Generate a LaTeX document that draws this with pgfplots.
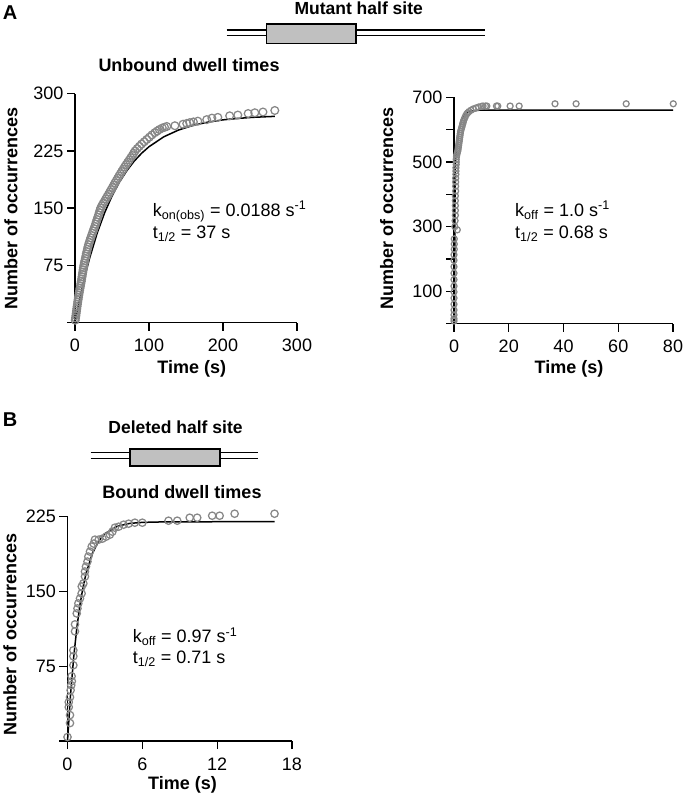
\documentclass[border=0pt]{standalone}
\usepackage{fontspec}
\setmainfont{Liberation Sans}
\usepackage{pgfplots}
\pgfplotsset{compat=1.18}
\definecolor{dotgray}{RGB}{135,135,135}
\definecolor{boxgray}{RGB}{192,192,192}
\newcommand{\fs}{\fontsize{18}{21}\selectfont}
\pgfplotsset{
  panel/.style={
    scale only axis,
    axis lines*=left,
    tick align=outside,
    major tick length=8pt,
    minor tick length=8pt,
    axis line style={line width=1.3pt, black},
    tick style={line width=1.3pt, black},
    tick label style={font=\fs},
    xticklabel style={yshift=-5pt},
    label style={font=\bfseries\fs},
    /pgf/number format/assume math mode=true,
    clip=false,
    scaled ticks=false,
    extra y ticks={0},
    extra y tick labels={},
  },
  dots/.style={only marks, mark=o, mark options={dotgray, line width=1.25pt}},
  fitline/.style={no marks, black, line width=1.5pt},
}
\begin{document}
\begin{tikzpicture}
\useasboundingbox (0,0) rectangle (685pt,-797pt);

% ---------- Panel A titles and diagram ----------
\node[anchor=base, font=\bfseries\fontsize{20}{22}\selectfont] at (10pt,-19.3pt) {A};
\node[anchor=base, font=\bfseries\fontsize{17.5}{20}\selectfont] at (358.7pt,-15pt) {Mutant half site};
\draw[line width=1.5pt] (226.7pt,-30pt) -- (485pt,-30pt);
\draw[line width=1.5pt] (226.7pt,-35.5pt) -- (485pt,-35.5pt);
\draw[line width=1.5pt, fill=boxgray] (266.5pt,-24pt) rectangle (356pt,-43.3pt);
\node[anchor=base, font=\bfseries\fs] at (189pt,-71.7pt) {Unbound dwell times};

% ---------- Panel A left ----------
\begin{axis}[panel,
  at={(75pt,-322.5pt)}, anchor=south west,
  width=222pt, height=228.8pt,
  xmin=0, xmax=300, ymin=0, ymax=300,
  xtick={0,100,200,300}, ytick={75,150,225,300},
  xlabel={Time (s)}, ylabel={Number of occurrences},
  xlabel style={at={(axis description cs:0.526,-0.201)}, anchor=center},
  ylabel style={at={(axis description cs:-0.288,0.5)}, anchor=center, rotate=0},
]
\addplot[fitline] coordinates {
(0,0) (2.5,12.5) (5,24.4) (10,46.6) (15,66.8) (20,85.2) (30,117.3) (40,143.8) (50,165.8)
(60,184.0) (70,199.0) (80,211.6) (90,221.9) (100,230.5) (120,243.5) (140,252.4) (160,258.6)
(180,262.8) (200,265.7) (220,267.6) (240,269.0) (270,270.3)
};
\addplot[dots, mark size=3.9pt] coordinates {
(0.3,3) (0.7,6) (1.2,9) (1.6,12) (2.0,15) (2.4,18) (2.8,21) (3.3,24) (3.7,27) (4.2,30)
(4.7,33) (5.2,36) (5.7,39) (6.2,42) (6.8,45) (7.4,48) (7.9,51) (8.5,54) (9.0,57) (9.5,60)
(10.0,63) (10.5,66) (11.0,69) (11.5,72) (12.0,75) (12.6,78) (13.3,81) (14.0,84) (14.7,87) (15.3,90)
(16.0,93) (16.8,96) (17.5,99) (18.3,102) (19.3,105) (20.3,108) (21.3,111) (22.4,114) (23.5,117) (24.6,120)
(25.7,123) (26.8,126) (27.8,129) (28.8,132) (29.8,135) (30.8,138) (31.9,141) (32.8,144) (33.7,147) (34.7,150)
(36.3,153) (38.0,156) (39.8,159) (41.6,162) (43.4,165) (45.2,168) (47.0,171) (48.8,174) (50.6,177) (52.3,180)
(54.0,183) (55.8,186) (57.6,189) (59.4,192) (61.3,195) (63.2,198) (65.1,201) (67.0,204) (69.1,207) (71.2,210)
(73.3,213) (75.4,216) (77.5,219) (79.3,222) (81.2,225) (84.0,228) (87.0,231) (90.0,234) (93.5,237) (97.0,240)
(100.5,243) (104.0,246) (108,249) (111,251) (114,253) (118,255) (121,256) (124,257)
(135,258) (146,260) (151,261) (155,262) (160,263) (166,264) (178,266) (185,268) (193,269)
(209,271) (220,272) (234,274) (243,275) (254,276) (270,278)
};
\end{axis}
\node[anchor=base west, font=\fs] at (149.3pt,-216pt) {k\textsubscript{on(obs)} = 0.0188 s\textsuperscript{-1}};
\node[anchor=base west, font=\fs] at (149.3pt,-238.3pt) {t\textsubscript{1/2} = 37 s};

% ---------- Panel A right ----------
\begin{axis}[panel,
  at={(454pt,-323.6pt)}, anchor=south west,
  width=219pt, height=226.3pt,
  xmin=0, xmax=80, ymin=0, ymax=700,
  xtick={0,20,40,60,80}, ytick={100,300,500,700},
  minor ytick={200,400,600},
  xlabel={Time (s)}, ylabel={Number of occurrences},
  xlabel style={at={(axis description cs:0.525,-0.198)}, anchor=center},
  ylabel style={at={(axis description cs:-0.307,0.509)}, anchor=center, rotate=0},
]
\addplot[fitline] coordinates {
(0.2,0) (0.3,300) (0.45,480) (0.8,540) (1.5,590) (2.5,625) (3.5,643) (5,653) (7,658) (9,660) (80,660)
};
\addplot[dots, mark size=3pt] coordinates {
(0.0,8) (0.0,15) (0.0,27) (0.0,42) (0.0,60) (0.0,79) (0.0,98) (0.0,116) (0.0,136) (0.0,156)
(0.0,176) (0.0,196) (0.0,213) (0.1,230) (0.1,246) (0.1,262) (1.2,290) (0.3,300) (0.4,318) (0.5,335)
(0.5,350) (0.5,365) (0.5,380) (0.5,395) (0.6,410) (0.6,425) (0.6,438) (0.6,450) (0.7,462) (0.7,472)
(0.7,482) (0.8,492) (0.8,500) (0.8,508) (0.9,516) (1.0,522) (1.2,528) (1.4,534) (1.5,540) (1.6,546)
(1.7,552) (1.8,558) (1.9,564) (2.0,570) (2.1,576) (2.2,582) (2.3,588) (2.4,594) (2.6,600) (2.8,606)
(3.0,612) (3.2,618) (3.4,624) (3.6,630) (3.9,636) (4.2,642) (4.6,648) (5.0,652) (5.5,656) (6.2,660)
(7.0,664) (8.0,667) (9.0,670) (10.0,672) (10.6,673) (11.5,673) (12.0,673) (15.5,673) (16.0,673)
(20.5,673) (23.8,673) (36.9,680) (44.6,680) (62.9,680) (80.1,680)
};
\end{axis}
\node[anchor=base west, font=\fs] at (511.7pt,-216pt) {k\textsubscript{off} = 1.0 s\textsuperscript{-1}};
\node[anchor=base west, font=\fs] at (511.7pt,-238.3pt) {t\textsubscript{1/2} = 0.68 s};

% ---------- Panel B titles and diagram ----------
\node[anchor=base, font=\bfseries\fontsize{20}{22}\selectfont] at (10pt,-426.7pt) {B};
\node[anchor=base, font=\bfseries\fontsize{17.5}{20}\selectfont] at (175.5pt,-433.3pt) {Deleted half site};
\draw[line width=1.5pt] (90.7pt,-452.5pt) -- (258.3pt,-452.5pt);
\draw[line width=1.5pt] (90.7pt,-458.5pt) -- (258.3pt,-458.5pt);
\draw[line width=1.5pt, fill=boxgray] (130pt,-449pt) rectangle (220pt,-466pt);
\node[anchor=base, font=\bfseries\fs] at (182pt,-498.3pt) {Bound dwell times};

% ---------- Panel B ----------
\begin{axis}[panel,
  at={(67.5pt,-741pt)}, anchor=south west,
  width=224.5pt, height=224.3pt,
  xmin=0, xmax=18, ymin=0, ymax=225,
  xtick={0,6,12,18}, ytick={75,150,225},
  xlabel={Time (s)}, ylabel={Number of occurrences},
  xlabel style={at={(axis description cs:0.512,-0.194)}, anchor=center},
  ylabel style={at={(axis description cs:-0.256,0.477)}, anchor=center, rotate=0},
]
\addplot[fitline] coordinates {
(0,0) (0.25,47.4) (0.5,84.5) (0.75,113.7) (1,136.6) (1.25,154.6) (1.5,168.6) (2,188.4)
(2.5,200.5) (3,208.0) (4,215.5) (5,218.3) (6,219.3) (8,219.9) (16.6,220)
};
\addplot[dots, mark size=3.7pt] coordinates {
(0,4) (0.2,18) (0.2,26) (0.1,34) (0.1,39) (0.2,44) (0.25,51) (0.3,56) (0.35,60) (0.33,65)
(0.47,76) (0.47,85) (0.47,91) (0.6,110) (0.6,117) (0.74,128) (0.8,133) (0.87,138) (1.0,143)
(1.13,148) (1.14,155) (1.27,158) (1.4,165) (1.4,170) (1.48,175) (1.6,180) (1.67,185) (1.8,190)
(1.94,195) (2.1,198) (2.2,202) (2.5,202) (2.8,203) (3.1,205) (3.4,207) (3.6,210) (3.8,214)
(4.1,215) (4.5,217) (4.9,218) (5.4,219) (6.0,219) (8.1,221) (8.8,221) (9.8,224) (10.4,224)
(11.6,226) (12.2,226) (13.4,228) (16.6,228)
};
\end{axis}
\node[anchor=base west, font=\fs] at (129.3pt,-642.3pt) {k\textsubscript{off} = 0.97 s\textsuperscript{-1}};
\node[anchor=base west, font=\fs] at (129.3pt,-663.3pt) {t\textsubscript{1/2} = 0.71 s};
\end{tikzpicture}
\end{document}
